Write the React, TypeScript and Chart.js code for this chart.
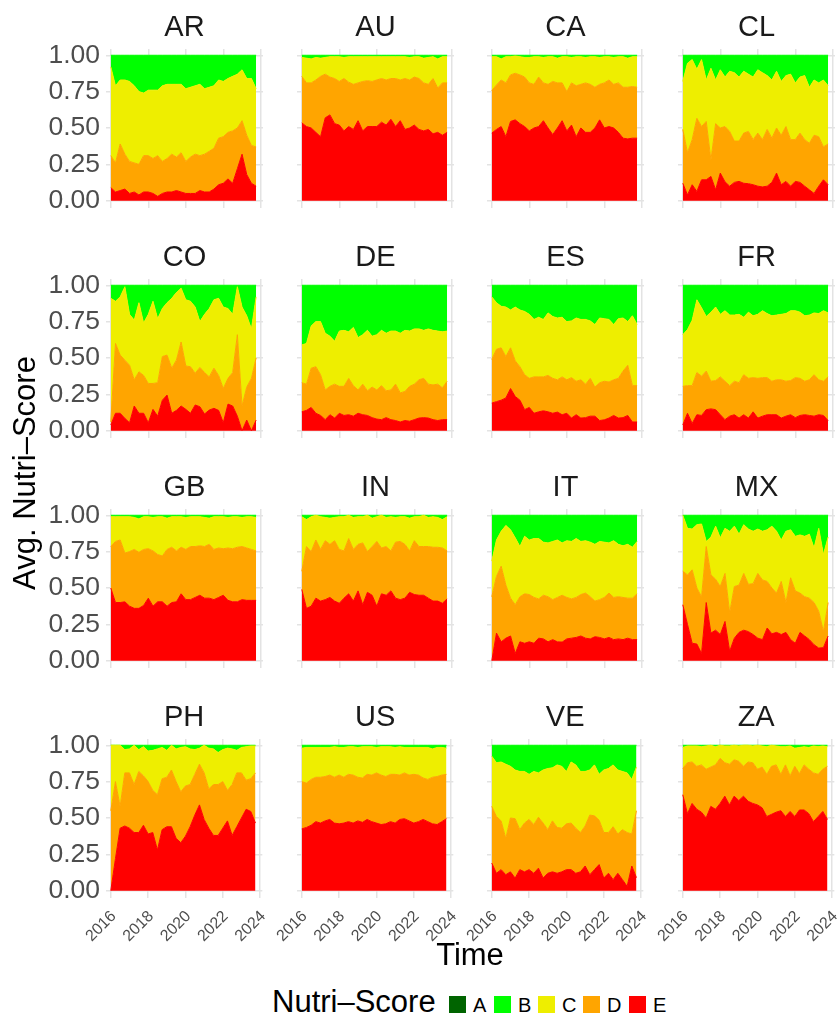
import React, { useEffect, useRef } from "react";
import { Chart, registerables } from "chart.js";

Chart.register(...registerables);

const FONT = '"Liberation Sans", Arial, Helvetica, sans-serif';

// Quarterly time points (decimal years)
const TIME = [
  2016.0, 2016.25, 2016.5, 2016.75, 2017.0, 2017.25, 2017.5, 2017.75,
  2018.0, 2018.25, 2018.5, 2018.75, 2019.0, 2019.25, 2019.5, 2019.75,
  2020.0, 2020.25, 2020.5, 2020.75, 2021.0, 2021.25, 2021.5, 2021.75,
  2022.0, 2022.25, 2022.5, 2022.75, 2023.0, 2023.25, 2023.5, 2023.75,
];
const X_TICKS = [2016, 2018, 2020, 2022, 2024];
const Y_TICKS = [0, 0.25, 0.5, 0.75, 1];

const COUNTRIES = ["AR", "AU", "CA", "CL", "CO", "DE", "ES", "FR", "GB", "IN", "IT", "MX", "PH", "US", "VE", "ZA"];
const GRADES = ["A", "B", "C", "D", "E"];
const GRADE_COLORS = ["#006400", "#00FF00", "#EEEE00", "#FFA500", "#FF0000"];

// Cumulative shares: top of E, top of D (E+D), top of C (E+D+C); B fills to 1, A is 0.
const AR_E = [0.09,0.06,0.07,0.08,0.05,0.06,0.04,0.06,0.06,0.05,0.03,0.05,0.06,0.06,0.07,0.06,0.05,0.05,0.05,0.07,0.06,0.06,0.08,0.11,0.12,0.15,0.12,0.22,0.32,0.18,0.12,0.10];
const AR_D = [0.31,0.26,0.39,0.32,0.27,0.26,0.25,0.31,0.31,0.29,0.31,0.27,0.29,0.32,0.30,0.33,0.27,0.30,0.32,0.31,0.32,0.34,0.36,0.43,0.44,0.47,0.48,0.50,0.55,0.45,0.38,0.37];
const AR_C = [0.92,0.79,0.83,0.83,0.82,0.79,0.75,0.74,0.76,0.76,0.76,0.79,0.80,0.80,0.80,0.80,0.77,0.78,0.79,0.80,0.77,0.78,0.79,0.83,0.82,0.84,0.855,0.87,0.90,0.84,0.84,0.77];

const AU_E = [0.535,0.51,0.50,0.47,0.44,0.57,0.59,0.53,0.52,0.48,0.51,0.49,0.55,0.48,0.51,0.51,0.51,0.54,0.52,0.56,0.51,0.55,0.49,0.50,0.52,0.49,0.48,0.49,0.46,0.47,0.45,0.47];
const AU_D = [0.855,0.81,0.81,0.83,0.855,0.87,0.85,0.84,0.82,0.84,0.815,0.80,0.81,0.82,0.825,0.82,0.83,0.84,0.83,0.84,0.84,0.83,0.84,0.83,0.85,0.84,0.81,0.80,0.84,0.775,0.81,0.81];
const AU_C = [0.985,0.98,0.975,0.985,0.98,0.985,0.99,0.99,0.99,0.985,0.99,0.99,0.99,0.99,0.99,0.99,0.99,0.99,0.99,0.99,0.99,0.99,0.99,0.985,0.99,0.99,0.98,0.985,0.99,0.975,0.99,0.99];

const CA_E = [0.465,0.49,0.51,0.44,0.545,0.556,0.53,0.51,0.48,0.50,0.51,0.55,0.50,0.455,0.50,0.55,0.48,0.52,0.44,0.50,0.47,0.47,0.50,0.556,0.50,0.51,0.50,0.47,0.43,0.425,0.43,0.43];
const CA_D = [0.757,0.796,0.83,0.81,0.865,0.876,0.865,0.85,0.81,0.80,0.85,0.81,0.80,0.82,0.81,0.81,0.75,0.81,0.79,0.80,0.81,0.80,0.78,0.80,0.81,0.83,0.80,0.81,0.78,0.78,0.785,0.78];
const CA_C = [0.99,0.99,0.975,0.99,0.99,0.995,0.99,0.985,0.985,0.99,0.99,0.985,0.99,0.99,0.98,0.99,0.99,0.985,0.99,0.99,0.985,0.99,0.99,0.985,0.99,0.99,0.985,0.99,0.99,0.98,0.99,0.99];

const CL_E = [0.12,0.04,0.11,0.064,0.144,0.144,0.167,0.075,0.19,0.13,0.10,0.126,0.133,0.12,0.117,0.11,0.10,0.095,0.10,0.126,0.19,0.11,0.133,0.10,0.133,0.126,0.10,0.075,0.05,0.10,0.144,0.11];
const CL_D = [0.49,0.33,0.42,0.567,0.51,0.545,0.28,0.53,0.50,0.51,0.476,0.41,0.41,0.465,0.476,0.42,0.465,0.42,0.49,0.43,0.50,0.45,0.51,0.42,0.42,0.465,0.42,0.395,0.45,0.44,0.37,0.39];
const CL_C = [0.82,0.945,0.97,0.904,0.97,0.83,0.91,0.83,0.90,0.85,0.89,0.88,0.85,0.89,0.87,0.85,0.90,0.88,0.86,0.83,0.89,0.82,0.86,0.87,0.81,0.85,0.86,0.78,0.83,0.81,0.83,0.79];

const CO_E = [0.04,0.12,0.12,0.085,0.055,0.17,0.12,0.12,0.055,0.147,0.10,0.21,0.245,0.12,0.14,0.17,0.147,0.12,0.177,0.165,0.115,0.142,0.154,0.14,0.055,0.183,0.17,0.10,0.0,0.073,0.0,0.073];
const CO_D = [0.06,0.60,0.52,0.485,0.45,0.35,0.405,0.38,0.325,0.325,0.33,0.51,0.52,0.43,0.485,0.61,0.445,0.44,0.395,0.435,0.40,0.37,0.43,0.38,0.29,0.36,0.40,0.66,0.17,0.30,0.36,0.50];
const CO_C = [0.91,0.89,0.92,0.99,0.80,0.76,0.88,0.74,0.80,0.89,0.77,0.84,0.88,0.91,0.95,0.98,0.90,0.89,0.85,0.75,0.80,0.84,0.90,0.91,0.85,0.84,0.80,0.99,0.85,0.79,0.70,0.92];

const DE_E = [0.13,0.14,0.16,0.12,0.105,0.076,0.11,0.087,0.12,0.105,0.11,0.10,0.12,0.11,0.105,0.09,0.08,0.076,0.09,0.076,0.07,0.06,0.07,0.065,0.076,0.087,0.09,0.087,0.076,0.07,0.076,0.076];
const DE_D = [0.33,0.32,0.43,0.44,0.385,0.28,0.305,0.32,0.305,0.305,0.36,0.31,0.28,0.32,0.275,0.30,0.28,0.31,0.275,0.28,0.32,0.26,0.27,0.305,0.32,0.35,0.36,0.32,0.315,0.32,0.295,0.34];
const DE_C = [0.59,0.60,0.72,0.75,0.75,0.67,0.65,0.615,0.685,0.69,0.68,0.71,0.64,0.66,0.69,0.65,0.66,0.69,0.67,0.685,0.685,0.67,0.69,0.685,0.70,0.70,0.69,0.70,0.69,0.685,0.68,0.685];

const ES_E = [0.19,0.20,0.21,0.225,0.29,0.235,0.21,0.145,0.16,0.12,0.13,0.137,0.13,0.12,0.128,0.11,0.12,0.087,0.11,0.087,0.09,0.10,0.10,0.07,0.075,0.087,0.105,0.087,0.09,0.105,0.06,0.06];
const ES_D = [0.49,0.56,0.57,0.51,0.57,0.48,0.44,0.385,0.36,0.37,0.37,0.37,0.38,0.36,0.35,0.37,0.35,0.365,0.34,0.35,0.32,0.36,0.30,0.33,0.34,0.335,0.35,0.36,0.41,0.45,0.31,0.31];
const ES_C = [0.92,0.88,0.855,0.85,0.83,0.85,0.83,0.82,0.80,0.765,0.78,0.765,0.81,0.785,0.775,0.78,0.75,0.755,0.775,0.765,0.765,0.755,0.73,0.775,0.77,0.765,0.73,0.77,0.775,0.75,0.79,0.73];

const FR_E = [0.04,0.12,0.05,0.11,0.105,0.145,0.15,0.145,0.11,0.076,0.10,0.11,0.087,0.11,0.087,0.13,0.087,0.10,0.11,0.11,0.11,0.087,0.10,0.11,0.09,0.105,0.11,0.105,0.10,0.11,0.105,0.07];
const FR_D = [0.305,0.31,0.31,0.40,0.375,0.41,0.34,0.345,0.37,0.34,0.31,0.34,0.33,0.385,0.36,0.365,0.36,0.365,0.365,0.34,0.35,0.35,0.34,0.345,0.365,0.36,0.34,0.35,0.385,0.35,0.34,0.37];
const FR_C = [0.66,0.695,0.76,0.90,0.845,0.785,0.815,0.85,0.80,0.825,0.795,0.795,0.80,0.78,0.815,0.79,0.80,0.825,0.805,0.79,0.795,0.80,0.805,0.825,0.825,0.815,0.79,0.795,0.81,0.805,0.825,0.81];

const GB_E = [0.50,0.40,0.40,0.405,0.375,0.36,0.36,0.38,0.43,0.375,0.405,0.405,0.375,0.40,0.405,0.46,0.42,0.42,0.435,0.45,0.43,0.43,0.42,0.435,0.45,0.415,0.405,0.405,0.42,0.415,0.415,0.415];
const GB_D = [0.785,0.82,0.83,0.74,0.75,0.765,0.745,0.765,0.77,0.755,0.73,0.72,0.765,0.78,0.755,0.78,0.765,0.785,0.785,0.79,0.785,0.80,0.765,0.775,0.77,0.775,0.77,0.78,0.785,0.775,0.765,0.755];
const GB_C = [0.99,0.99,0.99,0.99,0.99,0.985,0.975,0.99,0.99,0.985,0.99,0.99,0.98,0.99,0.99,0.99,0.985,0.99,0.99,0.99,0.985,0.98,0.99,0.99,0.99,0.985,0.99,0.99,0.985,0.99,0.99,0.985];

const IN_E = [0.49,0.36,0.375,0.43,0.41,0.42,0.435,0.41,0.395,0.43,0.46,0.41,0.48,0.385,0.47,0.45,0.375,0.46,0.45,0.48,0.43,0.42,0.43,0.47,0.455,0.45,0.45,0.43,0.41,0.41,0.395,0.425];
const IN_D = [0.615,0.785,0.75,0.83,0.765,0.825,0.80,0.825,0.765,0.755,0.84,0.765,0.80,0.81,0.75,0.785,0.82,0.775,0.785,0.755,0.815,0.82,0.80,0.755,0.825,0.785,0.785,0.785,0.78,0.78,0.775,0.755];
const IN_C = [0.99,0.97,0.99,1.0,0.99,0.985,0.98,0.985,0.99,0.99,1.0,0.985,0.99,0.99,1.0,0.98,0.99,1.0,0.985,0.99,0.985,0.99,0.99,0.98,0.99,0.99,1.0,0.985,0.99,0.985,0.97,0.99];

const IT_E = [0.0,0.19,0.13,0.155,0.17,0.05,0.13,0.12,0.13,0.12,0.155,0.15,0.13,0.145,0.13,0.128,0.15,0.155,0.16,0.17,0.155,0.15,0.165,0.16,0.15,0.16,0.145,0.15,0.145,0.155,0.145,0.145];
const IT_D = [0.44,0.58,0.65,0.52,0.43,0.385,0.44,0.46,0.455,0.435,0.425,0.45,0.44,0.42,0.435,0.45,0.435,0.425,0.435,0.455,0.465,0.44,0.41,0.42,0.435,0.465,0.435,0.44,0.435,0.43,0.43,0.46];
const IT_C = [0.685,0.83,0.89,0.93,0.90,0.845,0.785,0.855,0.83,0.84,0.84,0.815,0.81,0.82,0.83,0.81,0.825,0.82,0.84,0.82,0.825,0.815,0.80,0.82,0.815,0.81,0.825,0.80,0.79,0.80,0.78,0.82];

const MX_E = [0.385,0.25,0.12,0.115,0.05,0.40,0.19,0.21,0.18,0.27,0.065,0.155,0.195,0.21,0.20,0.18,0.155,0.145,0.225,0.185,0.195,0.18,0.195,0.145,0.12,0.195,0.17,0.145,0.11,0.087,0.09,0.17];
const MX_D = [0.615,0.59,0.625,0.50,0.44,0.785,0.59,0.56,0.51,0.60,0.33,0.51,0.52,0.60,0.525,0.53,0.60,0.555,0.545,0.50,0.465,0.545,0.40,0.57,0.48,0.465,0.44,0.43,0.40,0.34,0.20,0.40];
const MX_C = [1.0,0.91,0.905,0.935,0.94,0.82,0.85,0.925,0.845,0.91,0.89,0.925,0.87,0.935,0.905,0.89,0.905,0.89,0.90,0.925,0.89,0.83,0.89,0.90,0.855,0.865,0.855,0.87,0.775,0.91,0.73,0.85];

const PH_E = [0.0,0.22,0.43,0.445,0.43,0.40,0.40,0.45,0.39,0.40,0.28,0.42,0.44,0.44,0.36,0.33,0.375,0.44,0.52,0.59,0.49,0.43,0.38,0.38,0.43,0.48,0.38,0.44,0.50,0.56,0.545,0.465];
const PH_D = [0.55,0.75,0.58,0.81,0.81,0.73,0.82,0.79,0.75,0.69,0.66,0.77,0.78,0.83,0.75,0.68,0.72,0.73,0.80,0.87,0.81,0.70,0.73,0.73,0.75,0.69,0.73,0.81,0.81,0.76,0.77,0.81];
const PH_C = [1.0,1.0,1.0,0.97,0.975,1.0,0.97,0.99,0.96,0.965,0.975,0.985,0.965,1.0,0.975,0.985,0.99,0.975,0.97,0.98,1.0,0.98,0.975,0.95,0.97,0.98,0.975,0.965,0.985,0.99,0.995,0.995];

const US_E = [0.425,0.435,0.45,0.475,0.465,0.48,0.49,0.465,0.46,0.465,0.475,0.465,0.48,0.47,0.49,0.475,0.465,0.455,0.46,0.475,0.465,0.49,0.495,0.48,0.465,0.475,0.49,0.475,0.46,0.455,0.475,0.495];
const US_D = [0.75,0.74,0.765,0.78,0.78,0.785,0.795,0.78,0.795,0.78,0.80,0.795,0.78,0.775,0.80,0.795,0.81,0.795,0.785,0.80,0.80,0.795,0.81,0.795,0.80,0.795,0.775,0.765,0.78,0.785,0.795,0.80];
const US_C = [0.98,0.985,0.985,0.985,0.985,0.985,0.985,0.99,0.985,0.985,0.99,0.99,0.985,0.99,0.99,0.99,0.985,0.99,0.99,0.99,0.985,0.99,0.985,0.985,0.985,0.985,0.985,0.985,0.975,0.985,0.985,0.98];

const VE_E = [0.19,0.12,0.145,0.11,0.13,0.087,0.145,0.13,0.145,0.12,0.155,0.087,0.12,0.13,0.12,0.13,0.145,0.145,0.12,0.13,0.17,0.11,0.145,0.18,0.087,0.12,0.076,0.12,0.076,0.03,0.17,0.09];
const VE_D = [0.58,0.51,0.48,0.36,0.50,0.495,0.42,0.465,0.49,0.455,0.505,0.465,0.42,0.48,0.435,0.43,0.46,0.465,0.43,0.40,0.445,0.52,0.515,0.485,0.40,0.40,0.44,0.39,0.42,0.40,0.39,0.55];
const VE_C = [0.925,0.88,0.885,0.87,0.855,0.83,0.82,0.82,0.80,0.82,0.81,0.83,0.84,0.845,0.865,0.855,0.82,0.885,0.865,0.82,0.82,0.83,0.865,0.80,0.83,0.84,0.865,0.83,0.82,0.81,0.765,0.85];

const ZA_E = [0.66,0.53,0.60,0.56,0.54,0.50,0.58,0.56,0.60,0.65,0.59,0.65,0.62,0.65,0.615,0.60,0.59,0.57,0.51,0.525,0.54,0.55,0.51,0.545,0.51,0.555,0.555,0.53,0.475,0.51,0.545,0.49];
const ZA_D = [0.84,0.88,0.885,0.855,0.865,0.835,0.85,0.865,0.91,0.88,0.87,0.90,0.89,0.855,0.885,0.88,0.835,0.85,0.80,0.855,0.865,0.80,0.865,0.79,0.855,0.805,0.865,0.835,0.81,0.80,0.835,0.855];
const ZA_C = [0.985,0.995,0.995,0.995,0.99,0.995,1.0,0.99,1.0,0.995,0.995,1.0,0.995,1.0,1.0,0.995,1.0,0.995,0.99,1.0,0.995,0.99,0.99,0.995,0.98,0.985,0.99,0.985,0.995,0.99,0.995,0.99];

const TOPS: Record<string, number[][]> = {
  AR: [AR_E, AR_D, AR_C], AU: [AU_E, AU_D, AU_C], CA: [CA_E, CA_D, CA_C], CL: [CL_E, CL_D, CL_C],
  CO: [CO_E, CO_D, CO_C], DE: [DE_E, DE_D, DE_C], ES: [ES_E, ES_D, ES_C], FR: [FR_E, FR_D, FR_C],
  GB: [GB_E, GB_D, GB_C], IN: [IN_E, IN_D, IN_C], IT: [IT_E, IT_D, IT_C], MX: [MX_E, MX_D, MX_C],
  PH: [PH_E, PH_D, PH_C], US: [US_E, US_D, US_C], VE: [VE_E, VE_D, VE_C], ZA: [ZA_E, ZA_D, ZA_C],
};

// Layout (page pixels)
const COL_LEFT = [106, 297, 487, 678];
const ROW_TOP = [49, 279, 509, 739];
const AXIS_W = 106;
const TITLE_H = 47;
const XAXIS_H = 52;
const RIGHT_PAD = 20;
const AREA_W = 157;
const AREA_H = 159;
const CANVAS_W = AXIS_W + AREA_W + RIGHT_PAD;
const CANVAS_H = TITLE_H + AREA_H + XAXIS_H;

const GRID_COLOR = "#e3e3e3";
const TICK_COLOR = "#4d4d4d";

function Panel({ code, row, col }: { code: string; row: number; col: number }) {
  const ref = useRef<HTMLCanvasElement | null>(null);
  useEffect(() => {
    if (!ref.current) return;
    const [eTop, dTop, cTop] = TOPS[code];
    const shareE = eTop;
    const shareD = dTop.map((v, i) => v - eTop[i]);
    const shareC = cTop.map((v, i) => v - dTop[i]);
    const shareB = cTop.map((v) => 1 - v);
    const series: [string, number[], string][] = [
      ["E", shareE, GRADE_COLORS[4]],
      ["D", shareD, GRADE_COLORS[3]],
      ["C", shareC, GRADE_COLORS[2]],
      ["B", shareB, GRADE_COLORS[1]],
    ];
    const datasets = series.map(([label, vals, color], k) => ({
      label,
      data: TIME.map((t, i) => ({ x: t, y: vals[i] })),
      backgroundColor: color,
      borderColor: color,
      borderWidth: 1,
      pointRadius: 0,
      tension: 0,
      fill: k === 0 ? "origin" : "-1",
    }));
    const isLeft = col === 0;
    const isBottom = row === 3;
    const chart = new Chart(ref.current, {
      type: "line",
      data: { datasets: datasets as any },
      options: {
        responsive: false,
        animation: false,
        events: [],
        layout: { padding: { left: 0, right: RIGHT_PAD, top: 0, bottom: 0 } },
        plugins: {
          legend: { display: false },
          tooltip: { enabled: false },
          title: {
            display: true,
            text: code,
            fullSize: false,
            color: "#1a1a1a",
            font: { family: FONT, size: 29, weight: "normal", lineHeight: "32px" } as any,
            padding: { top: 10, bottom: 5 },
          },
        },
        scales: {
          x: {
            type: "linear",
            min: 2015.744,
            max: 2024.117,
            afterBuildTicks: (s: any) => {
              s.ticks = X_TICKS.map((v) => ({ value: v }));
            },
            afterFit: (s: any) => {
              s.height = XAXIS_H;
            },
            grid: { color: GRID_COLOR, lineWidth: 1.5, drawTicks: false },
            border: { display: false },
            ticks: {
              display: isBottom,
              minRotation: 45,
              maxRotation: 45,
              padding: 9,
              labelOffset: 3,
              color: TICK_COLOR,
              font: { family: FONT, size: 16 },
              callback: (v: any) => String(v),
            },
          },
          y: {
            stacked: true,
            min: -0.05,
            max: 1.043,
            afterBuildTicks: (s: any) => {
              s.ticks = Y_TICKS.map((v) => ({ value: v }));
            },
            afterFit: (s: any) => {
              s.width = AXIS_W;
            },
            grid: { color: GRID_COLOR, lineWidth: 1.5, drawTicks: false },
            border: { display: false },
            ticks: {
              display: isLeft,
              padding: 6,
              color: TICK_COLOR,
              font: { family: FONT, size: 26.5 },
              callback: (v: any) => Number(v).toFixed(2),
            },
          },
        },
      } as any,
    });
    return () => chart.destroy();
  }, [code, row, col]);
  return (
    <canvas
      ref={ref}
      width={CANVAS_W}
      height={CANVAS_H}
      style={{
        position: "absolute",
        left: COL_LEFT[col] - AXIS_W,
        top: ROW_TOP[row] - TITLE_H,
        width: CANVAS_W,
        height: CANVAS_H,
      }}
    />
  );
}

const LEGEND_SWATCH_LEFT = [449, 494, 538, 583, 629];

export default function App() {
  return (
    <div
      style={{
        position: "absolute",
        left: 0,
        top: 0,
        width: 838,
        height: 1016,
        overflow: "hidden",
        background: "#ffffff",
        fontFamily: FONT,
      }}
    >
      {COUNTRIES.map((code, i) => (
        <Panel key={code} code={code} row={Math.floor(i / 4)} col={i % 4} />
      ))}
      <div
        style={{
          position: "absolute",
          left: 25 - 160,
          top: 473 - 18,
          width: 320,
          height: 36,
          lineHeight: "36px",
          fontSize: 31,
          textAlign: "center",
          color: "#000",
          transform: "rotate(-90deg)",
          whiteSpace: "nowrap",
        }}
      >
        Avg. Nutri–Score
      </div>
      <div
        style={{
          position: "absolute",
          left: 370,
          top: 954 - 17.5,
          width: 200,
          height: 36,
          lineHeight: "36px",
          fontSize: 31,
          textAlign: "center",
          color: "#000",
          whiteSpace: "nowrap",
        }}
      >
        Time
      </div>
      <div
        style={{
          position: "absolute",
          left: 272,
          top: 1001 - 17.5,
          height: 36,
          lineHeight: "36px",
          fontSize: 31,
          color: "#000",
          whiteSpace: "nowrap",
        }}
      >
        Nutri–Score
      </div>
      {GRADES.map((g, i) => (
        <React.Fragment key={g}>
          <div
            style={{
              position: "absolute",
              left: LEGEND_SWATCH_LEFT[i],
              top: 996,
              width: 17,
              height: 17,
              background: GRADE_COLORS[i],
            }}
          />
          <div
            style={{
              position: "absolute",
              left: LEGEND_SWATCH_LEFT[i] + 24,
              top: 992.5,
              height: 24,
              lineHeight: "24px",
              fontSize: 20,
              color: "#000",
            }}
          >
            {g}
          </div>
        </React.Fragment>
      ))}
    </div>
  );
}
